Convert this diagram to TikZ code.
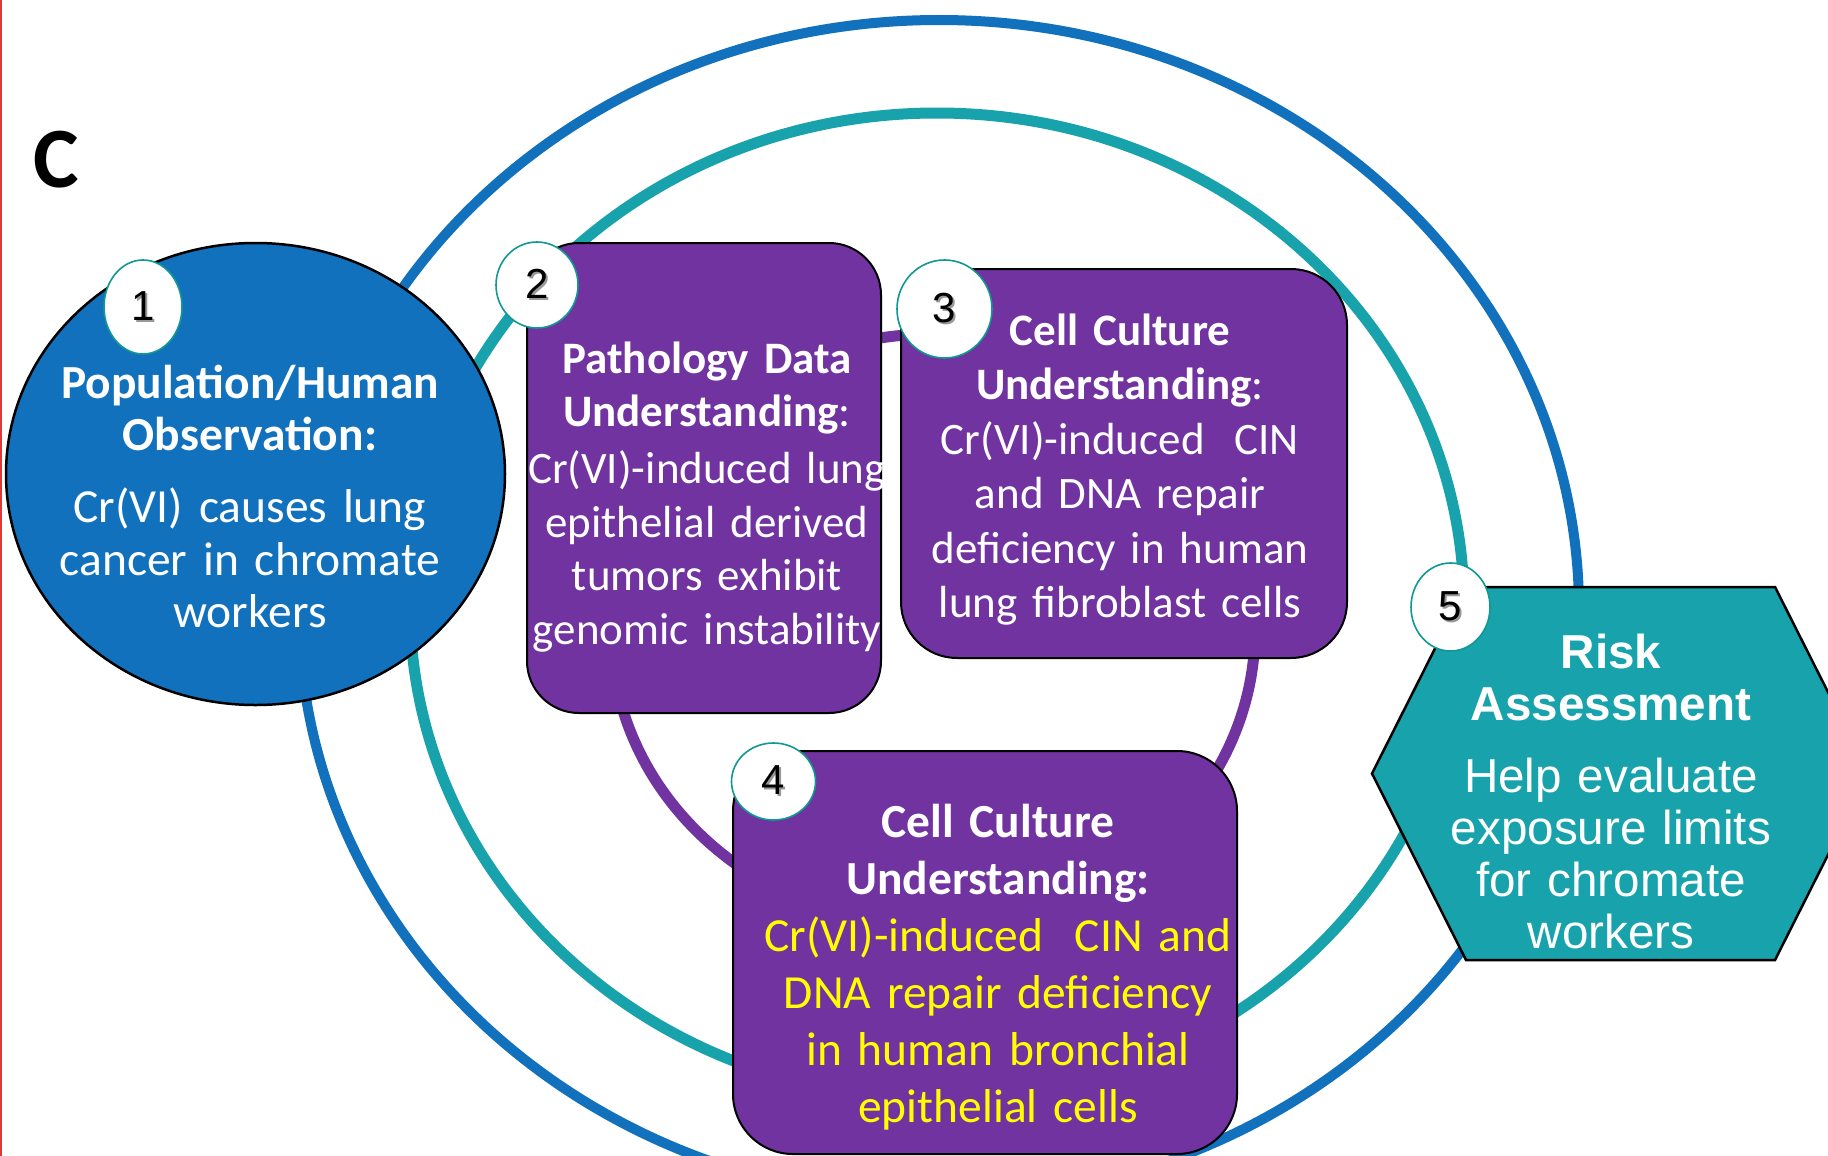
\documentclass[tikz,border=0pt]{standalone}
\usepackage{fontspec}
\setmainfont{Carlito}
\newfontfamily\arialfont{Liberation Sans}
\usetikzlibrary{shapes.geometric}
\definecolor{ringblue}{RGB}{18,113,189}
\definecolor{ringteal}{RGB}{23,162,172}
\definecolor{cardpurple}{RGB}{112,51,160}
\definecolor{badgeline}{RGB}{16,152,146}
\definecolor{edgered}{RGB}{222,56,56}
\definecolor{hiyellow}{RGB}{255,255,0}
% digit with a soft grey drop shadow
\newcommand{\badgedigit}[1]{\makebox[0pt][l]{\hspace{2pt}\raisebox{-2pt}{\textcolor{black!40}{#1}}}#1}
\begin{document}
\begin{tikzpicture}[x=1pt,y=-1pt,
  ring/.style={line width=#1},
  card/.style={draw=black, line width=2, fill=cardpurple, rounded corners=#1, inner sep=0},
  badge/.style={ellipse, draw=badgeline, line width=1.6, fill=white, inner sep=0,
    font=\arialfont\fontsize{42}{42}\selectfont},
  bodytext/.style={text=white, align=center, inner sep=0, anchor=base}]
\useasboundingbox (0,0) rectangle (1828,1156);
\clip (0,0) rectangle (1828,1156);
\fill[white] (0,0) rectangle (1828,1156);
\draw[edgered, line width=2] (1,0) -- (1,1156);

% panel letter
\node[inner sep=0, font=\fontsize{86}{86}\selectfont\bfseries] (panel) at (56,160) {C};

% concentric rings
\draw[ringblue, ring=10] (939,610) ellipse [x radius=640, y radius=590];
\draw[ringteal, ring=11] (937,606) ellipse [x radius=527, y radius=493];
\draw[cardpurple, ring=11] (933,630) ellipse [x radius=322, y radius=296];

% stages
\node[ellipse, draw=black, line width=2.5, fill=ringblue, inner sep=0,
  minimum width=499, minimum height=462] (obs) at (255.5,474) {};
\node[card=52, minimum width=354, minimum height=470] (patho) at (704,478) {};
\node[card=56, minimum width=446, minimum height=389] (fibro) at (1124,463.5) {};
\node[card=60, minimum width=504, minimum height=403] (bronch) at (985,952.5) {};
\draw[black, line width=2.5, fill=ringteal]
  (1372,773.5) -- (1466,587) -- (1775,587) -- (1869,773.5) -- (1775,960) -- (1466,960) -- cycle;

% texts
\node[bodytext, text width=440, font=\fontsize{47.5}{52.5}\selectfont] (obstext) at (250,398)
  {{\bfseries Population/Human\\Observation:}\\[19.5pt]Cr(VI) causes lung\\cancer in chromate\\workers};
\node[bodytext, text width=420, font=\fontsize{45}{53.5}\selectfont] (pathotext) at (707,373)
  {{\bfseries Pathology Data\\Understanding}:\\[3.5pt]Cr(VI)-induced lung\\epithelial derived\\tumors exhibit\\genomic instability};
\node[bodytext, text width=440, font=\fontsize{45}{54.5}\selectfont] (fibrotext) at (1120,345)
  {{\bfseries Cell Culture\\Understanding}:\\Cr(VI)-induced\ \ CIN\\and DNA repair\\deficiency in human\\lung fibroblast cells};
\node[bodytext, text width=500, font=\fontsize{47.5}{57}\selectfont] (bronchtext) at (998,837)
  {{\bfseries Cell Culture\\Understanding:}\\\textcolor{hiyellow}{Cr(VI)-induced\ \ CIN and\\DNA repair deficiency\\in human bronchial\\epithelial cells}};
\node[bodytext, text width=400, font=\arialfont\fontsize{47.6}{52}\selectfont] (risktext) at (1611,668)
  {{\bfseries Risk\\Assessment}\\[20pt]Help evaluate\\exposure limits\\for chromate\\workers};

% numbered badges
\node[badge, minimum width=78, minimum height=94] (b1) at (143,307) {\badgedigit{1}};
\node[badge, minimum width=82, minimum height=86] (b2) at (537,285) {\badgedigit{2}};
\node[badge, minimum width=95, minimum height=98] (b3) at (944.5,309) {\badgedigit{3}};
\node[badge, minimum width=84, minimum height=77] (b4) at (773.5,781.5) {\badgedigit{4}};
\node[badge, minimum width=79, minimum height=88] (b5) at (1450.5,607) {\badgedigit{5}};
\end{tikzpicture}
\end{document}
